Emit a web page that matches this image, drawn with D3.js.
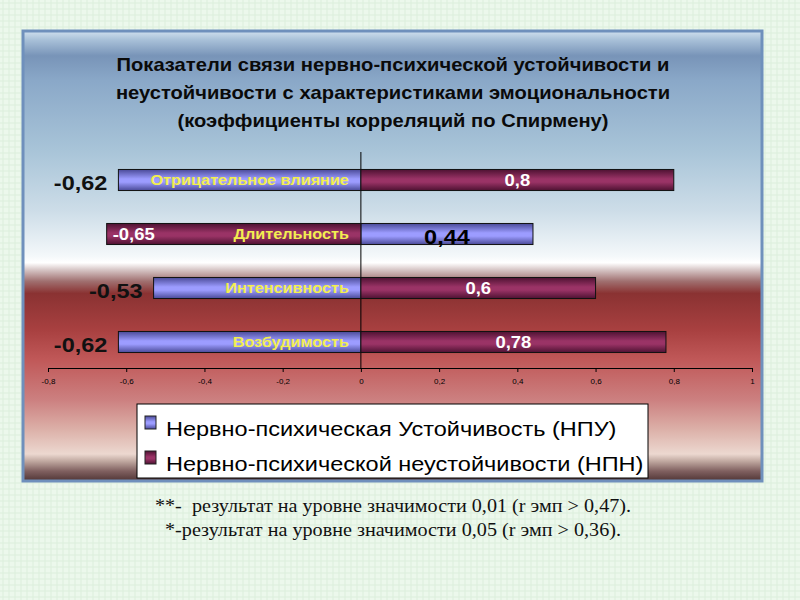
<!DOCTYPE html>
<html>
<head>
<meta charset="utf-8">
<script src="https://cdn.jsdelivr.net/npm/d3@7"></script>
<style>
  body { margin: 0; background: #eaf7ea; }
  svg { display: block; }
</style>
</head>
<body>
<div id="plot"></div>
<script>
// Data
const categories = ["Отрицательное влияние", "Длительность", "Интенсивность", "Возбудимость"];
const npu = [-0.62, 0.44, -0.53, -0.62];   // Нервно-психическая Устойчивость
const npn = [0.8, -0.65, 0.6, 0.78];       // Нервно-психической неустойчивости
const seriesNames = ["Нервно-психическая Устойчивость (НПУ)", "Нервно-психической неустойчивости (НПН)"];
const tickValues = [-0.8, -0.6, -0.4, -0.2, 0, 0.2, 0.4, 0.6, 0.8, 1];
const titleLines = [
    "Показатели связи нервно-психической устойчивости и",
    "неустойчивости с характеристиками эмоциональности",
    "(коэффициенты корреляций по Спирмену)"
];
const notes = [
    "**-  результат на уровне значимости 0,01 (r эмп > 0,47).",
    "*-результат на уровне значимости 0,05 (r эмп > 0,36)."
];

const W = 800, H = 600;
const K = 1.12; // the slide text is a bit wider than the plain font
const fmt = d3.formatLocale({ decimal: ",", thousands: " ", grouping: [3], currency: ["", ""], minus: "-" }).format("~g");

// widen text horizontally around its anchor point
function stretchX(sel, k) {
    sel.each(function () {
        const t = d3.select(this);
        const x0 = +t.attr("x"), y0 = +t.attr("y");
        t.attr("x", 0).attr("y", 0)
            .attr("transform", `translate(${x0},${y0}) scale(${k},1)`);
    });
}

const svg = d3.select("#plot").append("svg")
    .attr("width", W).attr("height", H);

const defs = svg.append("defs");

// page texture
const pat = defs.append("pattern").attr("id", "tex")
    .attr("width", 6).attr("height", 6).attr("patternUnits", "userSpaceOnUse");
pat.append("rect").attr("width", 6).attr("height", 6).attr("fill", "#ecf8ec");
pat.append("path").attr("d", "M0,3h6M3,0v6").attr("stroke", "#dcefdc").attr("stroke-width", 1);
svg.append("rect").attr("width", W).attr("height", H).attr("fill", "url(#tex)");

// panel background gradient
const bg = defs.append("linearGradient").attr("id", "panelBg")
    .attr("x1", 0).attr("y1", 0).attr("x2", 0).attr("y2", 1);
[
    [0, "#d0e0ee"], [0.02, "#a8c0d8"], [0.055, "#7894b8"], [0.11, "#8aa8c8"],
    [0.265, "#a8c4d8"], [0.4, "#cddde8"], [0.5, "#f4f8fa"], [0.515, "#ffffff"],
    [0.53, "#d8c8c8"], [0.556, "#a07070"], [0.583, "#8a3232"], [0.664, "#a84040"],
    [0.73, "#c05858"], [0.82, "#cc8080"], [0.885, "#dcb0a8"], [0.94, "#ecd8d0"],
    [0.956, "#c0a8a0"], [0.978, "#806060"], [1, "#503535"]
].forEach(s => bg.append("stop").attr("offset", s[0]).attr("stop-color", s[1]));

// bar gradients (vertical shading)
function barGrad(id, edge, mid) {
    const g = defs.append("linearGradient").attr("id", id)
        .attr("x1", 0).attr("y1", 0).attr("x2", 0).attr("y2", 1);
    g.append("stop").attr("offset", 0).attr("stop-color", edge);
    g.append("stop").attr("offset", 0.45).attr("stop-color", mid);
    g.append("stop").attr("offset", 0.6).attr("stop-color", mid);
    g.append("stop").attr("offset", 1).attr("stop-color", edge);
}
barGrad("gBlue", "#4a4a98", "#9c9cff");
barGrad("gPurple", "#4e1232", "#9a3366");

svg.append("rect")
    .attr("x", 23).attr("y", 31).attr("width", 739).attr("height", 450)
    .attr("fill", "url(#panelBg)")
    .attr("stroke", "#6f90bc").attr("stroke-width", 3);

// title
svg.append("g").selectAll("text")
    .data(titleLines).join("text")
    .attr("x", 393).attr("y", (d, i) => 71 + i * 28)
    .attr("text-anchor", "middle")
    .style("font-family", "Liberation Sans, Arial, sans-serif")
    .style("font-size", "18px").style("font-weight", "bold")
    .style("fill", "#0a0a0a")
    .text(d => d)
    .call(stretchX, K);

// scales
const x = d3.scaleLinear().domain([-0.8, 1]).range([48, 752]);
const y = d3.scaleBand().domain(categories).range([153, 369])
    .paddingInner(0.61).paddingOuter(0.305);

// axis
const axis = svg.append("g")
    .attr("transform", "translate(0,368)")
    .call(d3.axisBottom(x).tickValues(tickValues).tickSize(4).tickPadding(6).tickFormat(fmt));
axis.select(".domain").attr("stroke", "#000");
axis.selectAll(".tick line").attr("stroke", "#000");
axis.selectAll("text")
    .style("font-family", "Liberation Sans, Arial, sans-serif")
    .style("font-size", "8px").style("fill", "#000");

// zero line
svg.append("line")
    .attr("x1", x(0)).attr("x2", x(0))
    .attr("y1", 152).attr("y2", 368)
    .attr("stroke", "#000");

// bars
const series = [
    { values: npu, fill: "url(#gBlue)", label: "#000", size: 21 },
    { values: npn, fill: "url(#gPurple)", label: "#fff", size: 16.5 }
];

series.forEach(s => {
    svg.append("g").selectAll("rect")
        .data(categories).join("rect")
        .attr("x", (c, i) => x(Math.min(0, s.values[i])))
        .attr("y", c => y(c))
        .attr("width", (c, i) => Math.abs(x(s.values[i]) - x(0)))
        .attr("height", y.bandwidth())
        .attr("fill", s.fill)
        .attr("stroke", "#111").attr("stroke-width", 1);
});

// category labels (yellow, inside the left bar)
svg.append("g").selectAll("text")
    .data(categories).join("text")
    .attr("x", x(0) - 12)
    .attr("y", c => y(c) + y.bandwidth() / 2 + 5)
    .attr("text-anchor", "end")
    .style("font-family", "Liberation Sans, Arial, sans-serif")
    .style("font-size", "14.5px").style("font-weight", "bold")
    .style("fill", "#f2ee50")
    .text(c => c)
    .call(stretchX, K);

// value labels
series.forEach(s => {
    svg.append("g").selectAll("text")
        .data(categories).join("text")
        .each(function (c, i) {
            const v = s.values[i];
            const cy = y(c) + y.bandwidth() / 2;
            const t = d3.select(this);
            if (v > 0) {
                t.attr("x", (x(0) + x(v)) / 2).attr("text-anchor", "middle");
            } else if (s.label === "#000") {
                t.attr("x", x(v) - 11).attr("text-anchor", "end");
            } else {
                t.attr("x", x(v) + 6).attr("text-anchor", "start");
            }
            t.attr("y", cy + s.size * 0.36 + (s.label === "#000" ? 2 : 0));
        })
        .style("font-family", "Liberation Sans, Arial, sans-serif")
        .style("font-size", s.size + "px").style("font-weight", "bold")
        .style("fill", (c, i) => s.values[i] < 0 && s.label === "#000" ? "#111" : s.label)
        .text((c, i) => fmt(s.values[i]))
        .call(stretchX, K);
});

// legend
const legend = svg.append("g");
legend.append("rect")
    .attr("x", 137).attr("y", 404).attr("width", 511).attr("height", 74)
    .attr("fill", "#fff").attr("stroke", "#000");
const li = legend.selectAll("g").data(seriesNames).join("g")
    .attr("transform", (d, i) => `translate(0,${i * 35})`);
li.append("rect")
    .attr("x", 145).attr("y", 416).attr("width", 11).attr("height", 13)
    .attr("fill", (d, i) => series[i].fill).attr("stroke", "#222");
li.append("text")
    .attr("x", 166).attr("y", 436)
    .style("font-family", "Liberation Sans, Arial, sans-serif")
    .style("font-size", "21px").style("fill", "#000")
    .text(d => d)
    .call(stretchX, K);

// footnotes
svg.append("g").selectAll("text")
    .data(notes).join("text")
    .attr("x", 393).attr("y", (d, i) => 512 + i * 24)
    .attr("text-anchor", "middle")
    .style("white-space", "pre")
    .style("font-family", "Liberation Serif, Times New Roman, serif")
    .style("font-size", "18px").style("fill", "#111")
    .text(d => d)
    .call(stretchX, K);
</script>
</body>
</html>
